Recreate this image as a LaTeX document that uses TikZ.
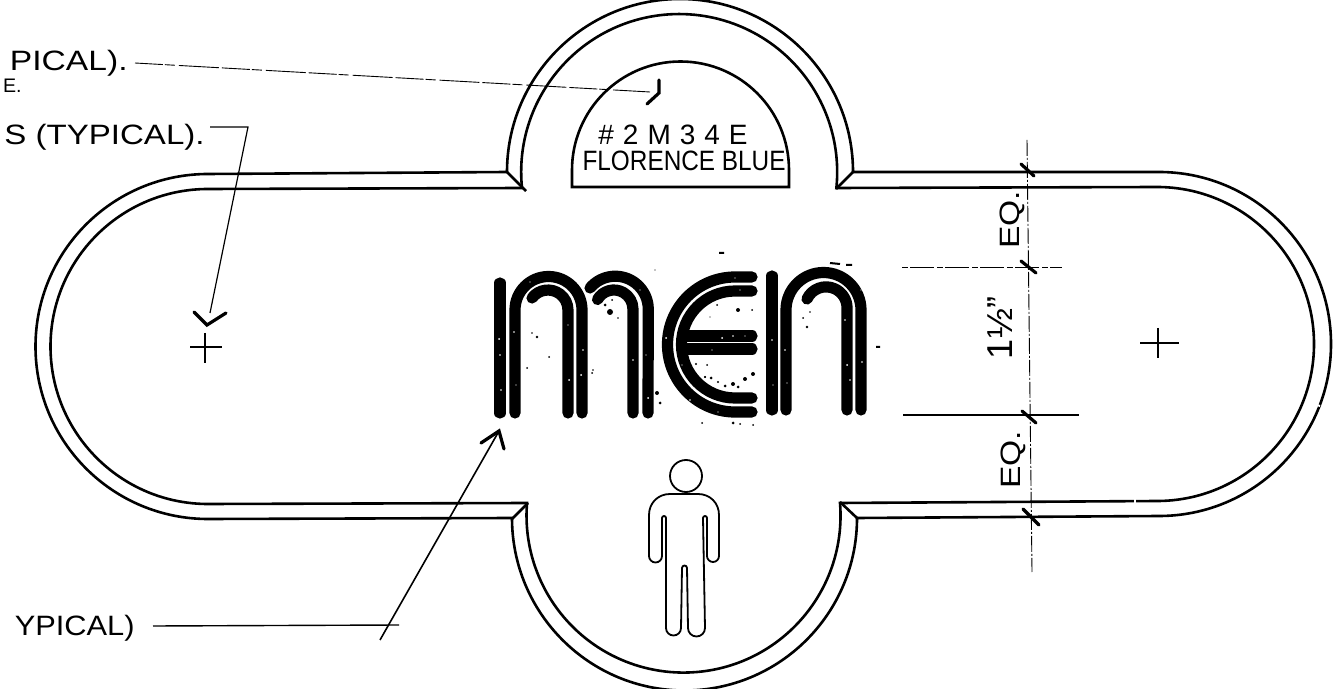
\documentclass[tikz,border=0pt]{standalone}
\usepackage{graphicx}
\usepackage{fontspec}
\setmainfont{Liberation Sans}
\tikzset{
  sign/.style={line width=1.3pt,line join=miter},
  logo/.style={line width=5.6pt,line cap=round,line join=round},
  thin line/.style={line width=.6pt},
  leader dash/.style={line width=.45pt,dash pattern=on 14pt off 1pt on 5pt off 2pt on 20pt off 1.5pt},
  dim dash/.style={line width=.45pt,dash pattern=on 8pt off 1pt on 1pt off 1pt},
  head/.style={line width=1.6pt,line cap=round,line join=miter},
  tick/.style={line width=1.6pt,line cap=round},
  hand/.style={inner sep=0pt,font=\fontsize{14}{14}\selectfont},
}
\begin{document}
\begin{tikzpicture}[x=.5pt,y=-.5pt]
\useasboundingbox (0,0) rectangle (1344,689);
\fill[white] (0,0) rectangle (1344,689);
\clip (0,0) rectangle (1344,689);

% outer and inner outline
\draw[sign] (208,174) -- (507,172) arc[start angle=180,end angle=360,radius=173] -- (1159,172)
  arc[start angle=-90,end angle=90,radius=172] -- (857,518)
  arc[start angle=0,end angle=180,radius=172.5] -- (208,519)
  arc[start angle=90,end angle=270,radius=172.5] -- cycle;
\draw[sign] (208,189) -- (522,188) arc[start angle=174.2,end angle=365.8,radius=158] -- (1157,187)
  arc[start angle=-90,end angle=90,radius=157] -- (840,503)
  arc[start angle=-4.6,end angle=184.6,radius=157] -- (208,504)
  arc[start angle=90,end angle=270,radius=157.5] -- cycle;
% mitres
\draw[sign] (507,172) -- (526,191);
\draw[sign] (853,172) -- (836,189);
\draw[sign] (512,519) -- (528,503);
\draw[sign] (857,518) -- (840,502);
% breaks in the line
\draw[white,line width=1pt] (1135,497) -- (1135,505);
\draw[white,line width=1pt] (1282,444) -- (1286,449);
\draw[white,line width=1pt] (1314,404) -- (1320,406);

% colour field
\draw[sign] (572,187) -- (789,187) -- (789,170) arc[start angle=0,end angle=-180,radius=108.5] -- cycle;
\node[hand] (code) at (673,135) {\addfontfeature{LetterSpace=32}\#2M34E};
\node[hand,anchor=east] (colour) at (786,161) {\scalebox{.87}[1]{FLORENCE BLUE}};

% centre marks
\draw[thin line] (190,347) -- (222,347) (205,333) -- (205,363);
\draw[thin line] (1140,343) -- (1179,343) (1158,328) -- (1158,358);

% MEN
\draw[logo] (500,283) -- (500,413);
\draw[logo] (515,413) -- (515,310) arc[start angle=180,end angle=360,radius=33.5] -- (582,413);
\draw[logo] (532,298) arc[start angle=217,end angle=360,radius=20] -- (568,413);
\draw[logo] (590,288) arc[start angle=220,end angle=360,radius=33] -- (648,413);
\draw[logo] (597.5,299.5) arc[start angle=210,end angle=360,radius=19] -- (633,413);
\draw[logo] (752,277) -- (735,277) arc[start angle=270,end angle=90,radius=67.5] -- (752,412);
\draw[logo] (752,291) -- (735,291) arc[start angle=270,end angle=90,radius=53.5] -- (752,398);
\draw[logo] (752,336) -- (684,336);
\draw[logo] (752,349) -- (684,349);
\draw[logo] (772,276) -- (772,410);
\draw[logo] (786,410) -- (786,310) arc[start angle=180,end angle=360,radius=37.5] -- (861,410);
\draw[logo] (807,299) arc[start angle=205,end angle=360,radius=21] -- (847,410);
% specks
\foreach \px/\py/\pr in {610/312/3,605/305/1.5,612/300/1,738/310/2,717/305/1,752/310/1,537/337/1.3,549/357/1,527/368/1,592/373/1,657/393/2,
  705/377/1,707/365/1,705/377/1.2,711/378/1.5,718/382/1.2,725/386/1.5,733/384/2,738/387/1.5,745/379/2,753/374/2,696/364/1.2,
  807/327/1.3,803/318/1,810/312/.8,702/423/1,733/423/1.5,740/424/1,753/425/1,628/300/1,618/318/.8,
  532/333/.8,593/370/.8,710/317/.6,655/270/.6,660/403/1.5}
  \fill (\px,\py) circle[radius=\pr];
\draw[line width=1pt] (719,253) -- (724,253) (830,263) -- (840,264) (846,265) -- (852,265) (876,347) -- (880,347);
\foreach \px/\py/\pr in {499/339/1,500/355/.8,501/390/.8,514/332/.8,516/385/.7,568/325/.7,569/380/1,583/350/.8,581/375/1,
  633/360/.8,648/398/1,646/355/.7,666/338/1,670/380/.8,682/365/.7,735/278/.7,740/290/.7,722/338/1,733/336/.8,745/336/.7,712/350/.7,
  690/400/.8,718/412/.7,772/340/.9,773/385/.7,785/350/.8,787/383/.7,845/320/.8,861/290/.7,847/365/1,862/362/.8,850/380/.8,530/282/.6,640/290/.7}
  \fill[white] (\px,\py) circle[radius=\pr];

% figure
\draw[line width=.9pt] (686,476) circle[radius=16];
\draw[line width=.9pt] (649,515) .. controls (649,503) and (658,494) .. (670,494) -- (698,494)
  .. controls (710,494) and (719,503) .. (719,515) -- (719,556)
  arc[start angle=0,end angle=180,radius=6] -- (707,518)
  arc[start angle=0,end angle=-180,radius=2] -- (705,628)
  arc[start angle=0,end angle=180,radius=8.5] -- (687,568)
  arc[start angle=0,end angle=-180,radius=2.5] -- (681,628)
  arc[start angle=0,end angle=180,radius=7.5] -- (666,518)
  arc[start angle=0,end angle=-180,radius=2] -- (662,556)
  arc[start angle=0,end angle=180,radius=6.5] -- cycle;

% dimensions
\coordinate (dimtop) at (1027,140);
\coordinate (dimbot) at (1032,572);
\draw[dim dash] (dimtop) -- (dimbot);
\coordinate (hAl) at (902,267);
\coordinate (hAr) at (1062,267);
\coordinate (hBl) at (903,415);
\coordinate (hBr) at (1079,415);
\draw[line width=.45pt,dash pattern=on 3pt off 1pt on 12pt off 1.5pt] (hAl) -- (hAr);
\draw[line width=.6pt] (hBl) -- (hBr);
\draw[tick] (1021,164) -- (1034,176) (1021,261) -- (1036,273) (1022,411) -- (1036,423) (1023,509) -- (1039,525);
\node[hand,rotate=90] (eqa) at (1012,220) {\scalebox{1.2}[1]{EQ.}};
\node[hand,rotate=90] (eqb) at (1013,460) {\scalebox{1.2}[1]{EQ.}};
\node[inner sep=0pt,rotate=90,font=\fontsize{18}{18}\selectfont] (frac) at (1000,328) {1½"};

% notes and leaders
\node[hand,anchor=east] (noteA) at (128,63) {\scalebox{1.2}[1]{PICAL).}};
\node[hand,anchor=east] (noteAb) at (22,86) {\scalebox{.7}[.7]{E.}};
\node[hand,anchor=east] (noteB) at (205,137) {\scalebox{1.18}[1]{S (TYPICAL).}};
\node[hand,anchor=east] (noteC) at (135,628) {\scalebox{1.1}[1]{YPICAL)}};

\coordinate (la) at (135,63);
\coordinate (lb) at (650,92);
\draw[leader dash] (la) -- (lb);
\coordinate (ha1) at (659,80);
\coordinate (ha2) at (659,93);
\coordinate (ha3) at (647,104);
\draw[head] (ha1) -- (ha2) -- (ha3);

\coordinate (lc) at (210,127);
\coordinate (ld) at (248,127);
\coordinate (le) at (210,313);
\draw[line width=.6pt] (lc) -- (ld) -- (le);
\coordinate (hb1) at (194,312);
\coordinate (hb2) at (207,325);
\coordinate (hb3) at (226,313);
\draw[head] (hb1) -- (hb2) -- (hb3);

\coordinate (lf) at (153,626);
\coordinate (lg) at (399,625);
\coordinate (lh) at (380,640);
\coordinate (li) at (499,431);
\draw[line width=.7pt] (lf) -- (lg);
\draw[line width=.8pt] (lh) -- (li);
\coordinate (hc1) at (481,443);
\coordinate (hc3) at (504,449);
\draw[head] (hc1) -- (li) -- (hc3);
\end{tikzpicture}
\end{document}
